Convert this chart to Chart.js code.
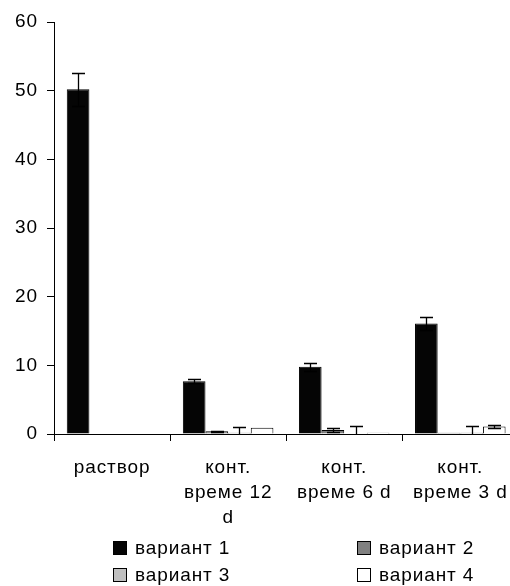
<!DOCTYPE html>
<html>
<head>
<meta charset="utf-8">
<script src="https://cdn.jsdelivr.net/npm/chart.js@4/dist/chart.umd.min.js"></script>
<style>
html,body{margin:0;padding:0;background:#fff;overflow:hidden;width:510px;height:586px;}
#wrap{position:relative;width:522px;height:586px;}
#legend{position:absolute;left:0;top:0;width:510px;height:586px;pointer-events:none;font-family:"Liberation Sans",Arial,sans-serif;font-size:19px;letter-spacing:0.9px;color:#000;}
.item{position:absolute;display:flex;align-items:center;white-space:nowrap;}
.box{width:12px;height:12px;border:1px solid #000;margin-right:8px;box-sizing:content-box;}
</style>
</head>
<body>
<div id="wrap">
<canvas id="c" width="522" height="586"></canvas>
<div id="legend"></div>
</div>
<script>
const categories = [["раствор"], ["конт.", "време 12", "d"], ["конт.", "време 6 d"], ["конт.", "време 3 d"]];
const seriesNames = ["вариант 1", "вариант 2", "вариант 3", "вариант 4"];
const variant1 = [50.2, 7.7, 9.8, 16.1];
const variant2 = [0, 0.4, 0.6, 0.2];
const variant3 = [0, 0.2, 0, 0.2];
const variant4 = [0, 0.9, 0.2, 1.1];
const error1 = [2.4, 0.25, 0.6, 0.9];
const error2 = [0, 0.1, 0.3, 0];
const error3 = [0, 0.8, 1.1, 0.9];
const error4 = [0, 0, 0, 0.2];
const yTicks = [0, 10, 20, 30, 40, 50, 60];

const colors = ["#050505", "#808080", "#c0c0c0", "#ffffff"];
const values = [variant1, variant2, variant3, variant4];
const errors = [error1, error2, error3, error4];

const FONT = {family: '"Liberation Sans", Arial, sans-serif', size: 19};
const LS = '0.9px';

const spacing = {
  id: 'spacing',
  beforeUpdate(chart) { chart.ctx.letterSpacing = LS; },
  beforeLayout(chart) { chart.ctx.letterSpacing = LS; },
  beforeDraw(chart) { chart.ctx.letterSpacing = LS; }
};

const errorBars = {
  id: 'errorBars',
  afterDatasetsDraw(chart) {
    const ctx = chart.ctx, ys = chart.scales.y, a = chart.chartArea;
    ctx.save();
    ctx.beginPath();
    ctx.rect(a.left, a.top - 2, a.right - a.left, a.bottom - a.top + 2);
    ctx.clip();
    ctx.strokeStyle = '#000';
    ctx.lineWidth = 1.3;
    chart.data.datasets.forEach((ds, i) => {
      const meta = chart.getDatasetMeta(i);
      meta.data.forEach((bar, j) => {
        const e = ds.errors[j];
        if (!e) return;
        const v = ds.data[j];
        const yt = Math.round(ys.getPixelForValue(v + e)) + 0.5;
        const yb = Math.round(ys.getPixelForValue(v - e)) + 0.5;
        const x = Math.round(bar.x) + 0.5;
        ctx.beginPath();
        ctx.moveTo(x, yt); ctx.lineTo(x, yb);
        ctx.moveTo(x - 6.5, yt); ctx.lineTo(x + 6.5, yt);
        ctx.moveTo(x - 6.5, yb); ctx.lineTo(x + 6.5, yb);
        ctx.stroke();
      });
    });
    ctx.restore();
  }
};

new Chart(document.getElementById('c'), {
  type: 'bar',
  data: {
    labels: categories,
    datasets: seriesNames.map((n, i) => ({
      label: n,
      data: values[i],
      errors: errors[i],
      backgroundColor: colors[i],
      borderColor: '#000',
      borderWidth: 1,
      categoryPercentage: 0.78,
      barPercentage: 1
    }))
  },
  options: {
    responsive: false,
    animation: false,
    devicePixelRatio: 1,
    layout: {padding: {top: 22, right: 3, bottom: 52, left: 0}},
    plugins: {legend: {display: false}, tooltip: {enabled: false}},
    scales: {
      x: {
        afterFit(s) { s.height = 100; },
        grid: {drawOnChartArea: false, drawTicks: true, tickLength: 7, color: '#000', offset: true},
        border: {display: true, color: '#000', width: 1},
        ticks: {color: '#000', font: {...FONT, lineHeight: 1.32}, padding: 14, maxRotation: 0, autoSkip: false}
      },
      y: {
        min: 0, max: 60,
        afterFit(s) { s.width = 54; },
        afterBuildTicks(s) { s.ticks = yTicks.map(v => ({value: v})); },
        grid: {drawOnChartArea: false, drawTicks: true, tickLength: 7, color: '#000'},
        border: {display: true, color: '#000', width: 1},
        ticks: {color: '#000', font: FONT, padding: 9}
      }
    }
  },
  plugins: [spacing, errorBars]
});

const legendPos = [[113, 548], [357, 548], [113, 575], [357, 575]];
const lg = document.getElementById('legend');
seriesNames.forEach((n, i) => {
  const it = document.createElement('div');
  it.className = 'item';
  it.style.left = legendPos[i][0] + 'px';
  it.style.top = (legendPos[i][1] - 10) + 'px';
  it.style.height = '20px';
  const b = document.createElement('div');
  b.className = 'box';
  b.style.background = colors[i];
  const t = document.createElement('span');
  t.textContent = n;
  it.appendChild(b); it.appendChild(t);
  lg.appendChild(it);
});
</script>
</body>
</html>
